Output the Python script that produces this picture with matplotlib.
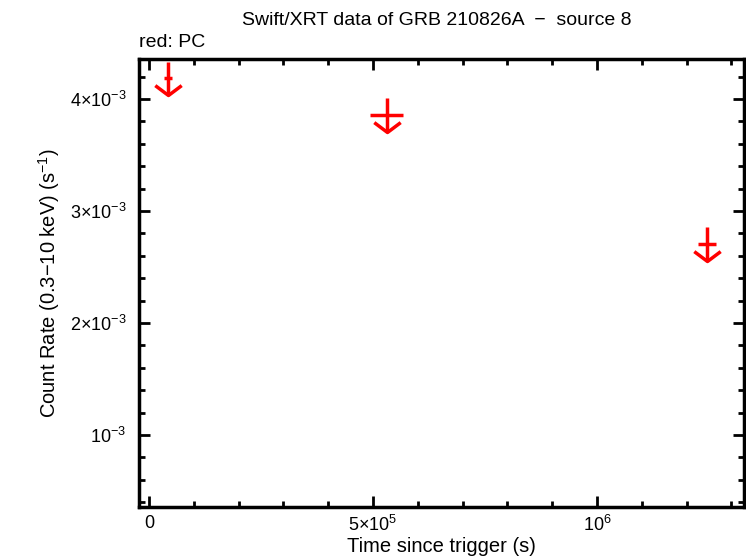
import matplotlib
matplotlib.use("Agg")
import matplotlib.pyplot as plt
import numpy as np
from matplotlib.path import Path
from matplotlib.ticker import MultipleLocator

plt.rcParams["font.family"] = ["Liberation Sans", "DejaVu Sans"]
plt.rcParams["mathtext.fontset"] = "custom"
plt.rcParams["mathtext.rm"] = "Liberation Sans"
plt.rcParams["mathtext.it"] = "Liberation Sans:italic"
plt.rcParams["mathtext.bf"] = "Liberation Sans:bold"

# upper limits (PC mode)
time = [42400, 531000, 1245500]
time_err = [9000, 36800, 20000]
rate_ul = [4.19e-3, 3.857e-3, 2.705e-3]

x_ticks = [0, 5e5, 1e6]
x_labels = ["0", r"$\mathregular{5{\times}10^{5}}$", r"$\mathregular{10^{6}}$"]
y_ticks = [1e-3, 2e-3, 3e-3, 4e-3]
y_labels = [r"$\mathregular{10^{-3}}$", r"$\mathregular{2{\times}10^{-3}}$",
            r"$\mathregular{3{\times}10^{-3}}$", r"$\mathregular{4{\times}10^{-3}}$"]

fig = plt.figure(figsize=(7.46, 5.58), dpi=100)
ax = fig.add_axes([0.1863, 0.0914, 0.811, 0.8029])

t = np.array(time)
te = np.array(time_err)
r = np.array(rate_ul)
arm = 0.155e-3  # length of vertical arm above / below the limit

ax.hlines(r, t - te, t + te, color="red", lw=2.5)
ax.vlines(t, r - arm, np.minimum(r + arm, 4.33e-3), color="red", lw=2.5)
vee = Path([(-1, 0.75), (0, 0), (1, 0.75)], [Path.MOVETO, Path.LINETO, Path.LINETO])
ax.plot(t, r - arm, ls="none", marker=vee, ms=19, mfc="none", mec="red", mew=2.5)

ax.set_xlim(-22300, 1.328e6)
ax.set_ylim(0.357e-3, 4.357e-3)
ax.set_xticks(x_ticks)
ax.set_xticklabels(x_labels)
ax.set_yticks(y_ticks)
ax.set_yticklabels(y_labels)
ax.xaxis.set_minor_locator(MultipleLocator(1e5))
ax.yaxis.set_minor_locator(MultipleLocator(0.2e-3))
ax.tick_params(which="both", direction="in", top=True, right=True, width=2, labelsize=13)
ax.tick_params(axis="x", pad=6)
ax.tick_params(axis="y", pad=9)
ax.tick_params(which="major", length=8)
ax.tick_params(which="minor", length=4)
for s in ax.spines.values():
    s.set_linewidth(2.5)

ax.set_xlabel("Time since trigger (s)", fontsize=14.5, labelpad=1)
ax.set_ylabel(r"Count Rate (0.3$-$10 keV) (s$^{-1}$)", fontsize=14.5, labelpad=6)
fig.text(0.585, 0.963, "Swift/XRT data of GRB 210826A  \u2212  source 8", ha="center", va="center", fontsize=14)
fig.text(0.1863, 0.924, "red: PC", ha="left", va="center", fontsize=14)

fig.savefig("out.png", dpi=100)
